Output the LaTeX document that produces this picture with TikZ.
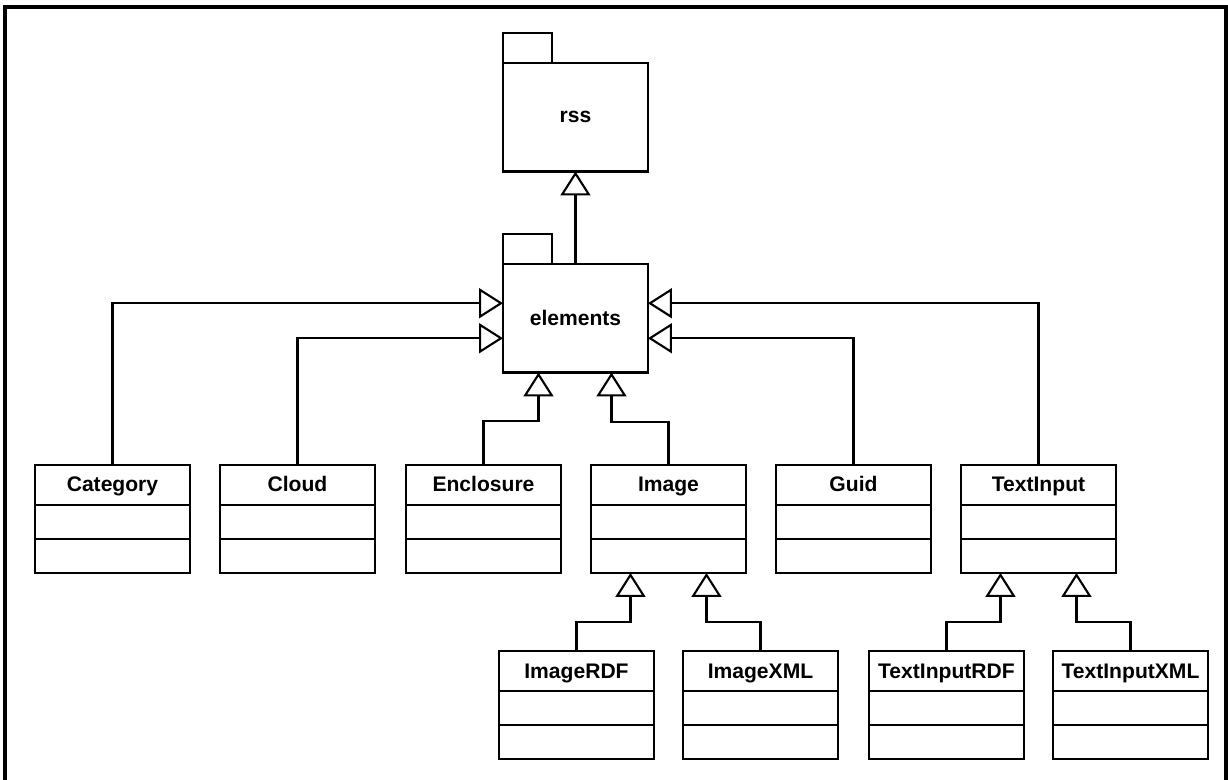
\documentclass[tikz,border=0pt]{standalone}
\usepackage{fontspec}
\setmainfont{Liberation Sans}
\usetikzlibrary{arrows.meta,calc}

\tikzset{
  classbox/.style={draw, line width=1.2pt, rectangle, minimum width=3.1cm,
    minimum height=2.16cm, inner sep=0pt, outer sep=0pt},
  pkgbox/.style={draw, line width=1.2pt, rectangle, minimum width=2.9cm,
    minimum height=2.17cm, inner sep=0pt, outer sep=0pt,
    font=\bfseries\fontsize{12}{14}\selectfont},
  classtitle/.style={inner sep=0pt, anchor=base,
    font=\bfseries\fontsize{12}{14}\selectfont},
  classline/.style={line width=1.2pt},
  gen/.style={line width=1.2pt,
    -{Triangle[open, length=0.48cm, width=0.6cm, line width=1.2pt]}},
  frame/.style={line width=2pt}
}

% one UML class: name, left x, top y, title
\newcommand\umlclass[4]{%
  \node[classbox, anchor=north west] (#1) at (#2,#3) {};
  \node[classtitle] (#1-title) at ($(#1.north)+(0,27)$) {#4};
  \draw[classline] ($(#1.north west)+(0,40)$) -- ($(#1.north east)+(0,40)$);
  \draw[classline] ($(#1.north west)+(0,74)$) -- ($(#1.north east)+(0,74)$);
}

% one UML package: name, left x, top y (of the body), title
\newcommand\umlpackage[4]{%
  \node[pkgbox, anchor=north west] (#1) at (#2,#3) {#4};
  \draw[classline] (#1.north west) -- ++(0,-30) -- ++(49,0) -- ++(0,30);
}

\begin{document}
\begin{tikzpicture}[x=0.02cm, y=-0.02cm]
  \useasboundingbox (0,0) rectangle (1228,780);
  \fill[white] (0,0) rectangle (1228,780);

  % open frame round the drawing
  \draw[frame] (5,782) -- (5,7) -- (1226,7) -- (1226,782);

  % packages
  \umlpackage{rss}{503}{63}{rss}
  \umlpackage{elements}{503}{264}{elements}

  % first row of classes
  \umlclass{category}{35}{465}{Category}
  \umlclass{cloud}{220}{465}{Cloud}
  \umlclass{enclosure}{406}{465}{Enclosure}
  \umlclass{image}{591}{465}{Image}
  \umlclass{guid}{776}{465}{Guid}
  \umlclass{textinput}{961}{465}{TextInput}

  % second row of classes
  \umlclass{imagerdf}{499}{651}{ImageRDF}
  \umlclass{imagexml}{683}{651}{ImageXML}
  \umlclass{textinputrdf}{869}{651}{TextInputRDF}
  \umlclass{textinputxml}{1053}{651}{TextInputXML}

  % generalizations
  \draw[gen] (elements.north) -- (rss.south);

  \draw[gen] (category.north) |- ($(elements.west)+(0,-15)$);
  \draw[gen] (cloud.north) |- ($(elements.west)+(0,20)$);
  \draw[gen] (guid.north) |- ($(elements.east)+(0,20)$);
  \draw[gen] (textinput.north) |- ($(elements.east)+(0,-15)$);

  \draw[gen] (enclosure.north) -- ++(0,-44) -| ($(elements.south)+(-37,0)$);
  \draw[gen] (image.north) -- ++(0,-43) -| ($(elements.south)+(36,0)$);

  \draw[gen] (imagerdf.north) -- ++(0,-29) -| ($(image.south)+(-38,0)$);
  \draw[gen] (imagexml.north) -- ++(0,-29) -| ($(image.south)+(38,0)$);

  \draw[gen] (textinputrdf.north) -- ++(0,-29) -| ($(textinput.south)+(-38,0)$);
  \draw[gen] (textinputxml.north) -- ++(0,-29) -| ($(textinput.south)+(38,0)$);
\end{tikzpicture}
\end{document}
